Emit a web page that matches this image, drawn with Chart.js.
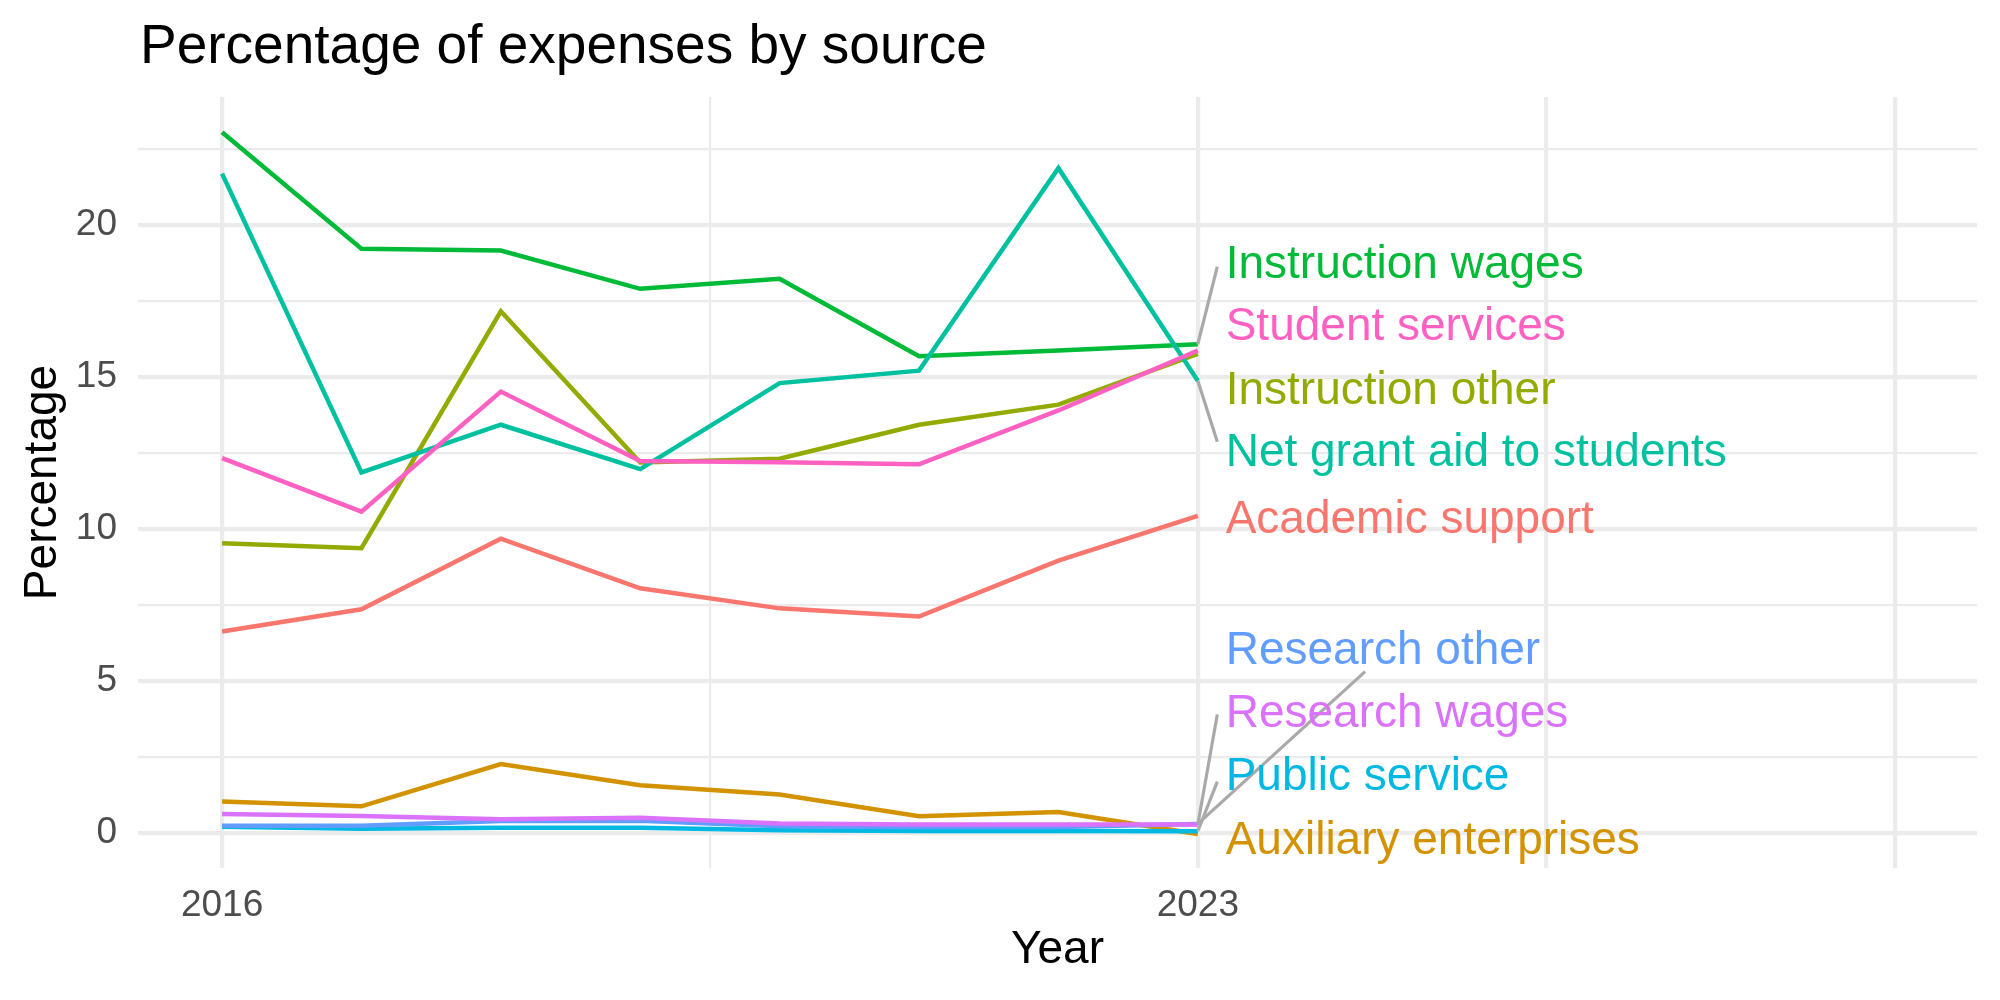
<!DOCTYPE html>
<html>
<head>
<meta charset="utf-8">
<script src="https://cdn.jsdelivr.net/npm/chart.js@4.4.1/dist/chart.umd.min.js"></script>
<style>
  html, body { margin: 0; padding: 0; background: #fff; }
  #chart { display: block; }
</style>
</head>
<body>
<canvas id="chart" width="2000" height="1000"></canvas>
<script>
// years on the x axis
const years = [2016, 2017, 2018, 2019, 2020, 2021, 2022, 2023];

// series names (alphabetical, as ggplot orders them)
const seriesNames = [
    'Academic support',
    'Auxiliary enterprises',
    'Instruction other',
    'Instruction wages',
    'Net grant aid to students',
    'Public service',
    'Research other',
    'Research wages',
    'Student services'
];

// values (percent)
const academicSupport   = [6.63, 7.36, 9.68, 8.05, 7.39, 7.12, 8.96, 10.43];
const auxiliary         = [1.04, 0.88, 2.27, 1.57, 1.27, 0.55, 0.69, -0.03];
const instructionOther  = [9.53, 9.37, 17.16, 12.19, 12.31, 13.43, 14.09, 15.76];
const instructionWages  = [23.05, 19.22, 19.16, 17.90, 18.23, 15.68, 15.87, 16.08];
const netGrantAid       = [21.69, 11.86, 13.43, 11.97, 14.80, 15.21, 21.87, 14.88];
const publicService     = [0.21, 0.14, 0.17, 0.17, 0.09, 0.07, 0.07, 0.06];
const researchOther     = [0.24, 0.24, 0.40, 0.40, 0.22, 0.20, 0.20, 0.30];
const researchWages     = [0.63, 0.56, 0.45, 0.50, 0.31, 0.28, 0.28, 0.28];
const studentServices   = [12.33, 10.57, 14.52, 12.24, 12.20, 12.13, 13.90, 15.87];

const seriesValues = [academicSupport, auxiliary, instructionOther, instructionWages,
    netGrantAid, publicService, researchOther, researchWages, studentServices];

// ggplot default hue palette for 9 groups
const seriesColors = ['#F8766D', '#D39200', '#93AA00', '#00BA38', '#00C19F',
    '#00B9E3', '#619CFF', '#DB72FB', '#FF61C3'];

// axis ticks / grid
const xMajorTicks = [2016, 2023, 2025.5, 2028];
const xMinorTicks = [2019.5];
const xTickLabels = [2016, 2023];
const yMajorTicks = [0, 5, 10, 15, 20];
const yMinorTicks = [2.5, 7.5, 12.5, 17.5, 22.5];

// repelled labels: y position in data units, same order as seriesNames
const labelX = 2023.2;
const labelY = [10.28, -0.26, 14.53, 18.67, 12.49, 1.82, 5.98, 3.90, 16.65];
// leader segments: [series index, end x, end y]
const segments = [
    [3, 2023.14, 18.63],
    [4, 2023.14, 12.87],
    [7, 2023.14, 3.90],
    [5, 2023.14, 1.69],
    [6, 2024.2, 5.31]
];

const FONT = '"Liberation Sans", Arial, Helvetica, sans-serif';

const datasets = seriesNames.map((name, i) => ({
    label: name,
    data: years.map((yr, k) => ({ x: yr, y: seriesValues[i][k] })),
    borderColor: seriesColors[i],
    backgroundColor: seriesColors[i],
    borderWidth: 4.5,
    pointRadius: 0,
    tension: 0,
    fill: false,
    order: seriesNames.length - i   // later groups on top, like ggplot
}));

// title, repelled labels and segments
const decorPlugin = {
    id: 'decor',
    afterDatasetsDraw(chart) {
        const { ctx, scales: { x, y } } = chart;
        ctx.save();
        // segments
        ctx.strokeStyle = '#A9A9A9';
        ctx.lineWidth = 3.2;
        ctx.lineCap = 'butt';
        segments.forEach(([si, ex, ey]) => {
            const v = seriesValues[si][years.length - 1];
            ctx.beginPath();
            ctx.moveTo(x.getPixelForValue(2023), y.getPixelForValue(v));
            ctx.lineTo(x.getPixelForValue(ex), y.getPixelForValue(ey));
            ctx.stroke();
        });
        // labels
        ctx.font = '46px ' + FONT;
        ctx.textAlign = 'left';
        ctx.textBaseline = 'middle';
        seriesNames.forEach((name, i) => {
            ctx.fillStyle = seriesColors[i];
            ctx.fillText(name, x.getPixelForValue(labelX), y.getPixelForValue(labelY[i]));
        });
        // title
        ctx.fillStyle = '#000';
        ctx.font = '55px ' + FONT;
        ctx.textBaseline = 'alphabetic';
        ctx.fillText('Percentage of expenses by source', 140, 63);
        ctx.restore();
    }
};

new Chart(document.getElementById('chart'), {
    type: 'line',
    data: { datasets },
    plugins: [decorPlugin],
    options: {
        responsive: false,
        animation: false,
        devicePixelRatio: 1,
        layout: { padding: { left: 0, top: 97, right: 23, bottom: 0 } },
        plugins: {
            legend: { display: false },
            tooltip: { enabled: false },
            title: { display: false }
        },
        scales: {
            x: {
                type: 'linear',
                min: 2015.397,
                max: 2028.59,
                afterBuildTicks: s => {
                    s.ticks = xMajorTicks.concat(xMinorTicks).sort((a, b) => a - b).map(v => ({ value: v }));
                },
                afterFit: s => { s.height = 132; },
                border: { display: false },
                grid: {
                    color: '#EBEBEB',
                    drawTicks: false,
                    lineWidth: c => (c.tick && xMinorTicks.includes(c.tick.value)) ? 2.2 : 4.2
                },
                ticks: {
                    padding: 16,
                    color: '#4D4D4D',
                    font: { family: FONT, size: 37 },
                    maxRotation: 0,
                    autoSkip: false,
                    callback: v => xTickLabels.includes(v) ? String(v) : ''
                },
                title: {
                    display: true,
                    text: 'Year',
                    color: '#000',
                    font: { family: FONT, size: 46 },
                    padding: { top: 0, bottom: 22 }
                }
            },
            y: {
                type: 'linear',
                min: -1.15,
                max: 24.21,
                afterBuildTicks: s => {
                    s.ticks = yMajorTicks.concat(yMinorTicks).sort((a, b) => a - b).map(v => ({ value: v }));
                },
                afterFit: s => { s.width = 138; },
                border: { display: false },
                grid: {
                    color: '#EBEBEB',
                    drawTicks: false,
                    lineWidth: c => (c.tick && yMinorTicks.includes(c.tick.value)) ? 2.2 : 4.2
                },
                ticks: {
                    padding: 21,
                    color: '#4D4D4D',
                    font: { family: FONT, size: 37 },
                    autoSkip: false,
                    callback: v => yMajorTicks.includes(v) ? String(v) : ''
                },
                title: {
                    display: true,
                    text: 'Percentage',
                    color: '#000',
                    font: { family: FONT, size: 46 },
                    padding: { top: 16, bottom: 0 }
                }
            }
        }
    }
});
</script>
</body>
</html>
